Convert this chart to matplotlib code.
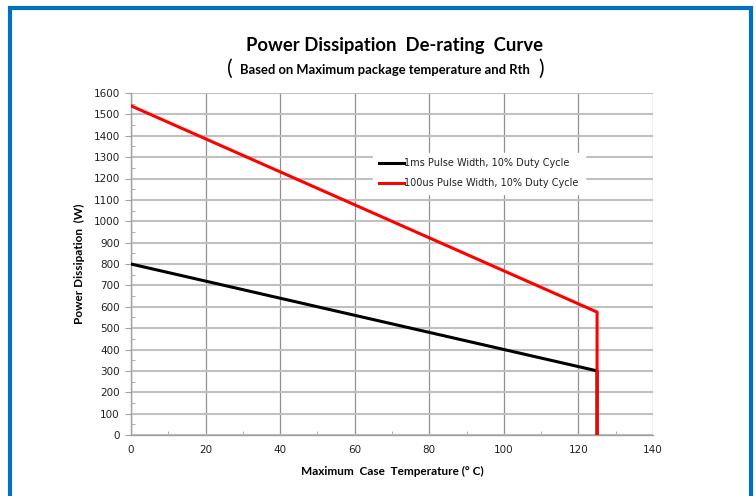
import matplotlib
matplotlib.use("Agg")
import matplotlib.pyplot as plt
from matplotlib.patches import Rectangle
from matplotlib.ticker import MultipleLocator

# data
temp_1ms = [0, 125, 125]
power_1ms = [800, 300, 0]
temp_100us = [0, 125, 125]
power_100us = [1540, 575, 0]
labels = ['1ms Pulse Width, 10% Duty Cycle', '100us Pulse Width, 10% Duty Cycle']

fig = plt.figure(figsize=(7.56, 4.96), dpi=100)

# blue frame around the chart
fig.patches.append(Rectangle((9.5/756, -0.05), (751-9.5)/756, 1.05 - 8.5/496,
                             transform=fig.transFigure, fill=False,
                             edgecolor='#0070C0', linewidth=3))

ax = fig.add_axes([131/756, 1-435/496, (653-131)/756, (435-93)/496])
ax.plot(temp_1ms, power_1ms, color='black', lw=2.2, label=labels[0], zorder=3)
ax.plot(temp_100us, power_100us, color='#FF0000', lw=2.2, label=labels[1], zorder=4)

ax.set_xlim(0, 140)
ax.set_ylim(0, 1600)
ax.xaxis.set_major_locator(MultipleLocator(20))
ax.xaxis.set_minor_locator(MultipleLocator(10))
ax.yaxis.set_major_locator(MultipleLocator(100))
ax.yaxis.set_minor_locator(MultipleLocator(50))

ax.grid(axis='x', which='major', color='#909090', lw=0.9)
ax.grid(axis='y', which='major', color='#C0C0C0', lw=1.5)
ax.set_axisbelow(True)
for side in ['top', 'right']:
    ax.spines[side].set_visible(False)
for side in ['left', 'bottom']:
    ax.spines[side].set_color('#A0A0A0')
    ax.spines[side].set_linewidth(1.0)

ax.tick_params(which='major', direction='out', length=4, color='#A0A0A0',
               labelsize=7.5, labelcolor='#222222', pad=4)
ax.tick_params(which='minor', direction='in', length=3, color='#A0A0A0')
ax.tick_params(axis='x', which='major', length=0, pad=7)

ax.set_xlabel('Maximum  Case  Temperature (° C)', fontsize=8.5, fontweight='bold',
              family='Lato', labelpad=8)
ax.set_ylabel('Power Dissipation  (W)', fontsize=8.5, fontweight='bold',
              family='Lato', labelpad=6)

leg = ax.legend(loc='upper left', bbox_to_anchor=(0.455, 0.84), frameon=True,
                fontsize=7, handlelength=2.5, handletextpad=0.1,
                labelspacing=1.0, borderpad=0.6)
leg.get_frame().set_edgecolor('white')
leg.get_frame().set_facecolor('white')
leg.get_frame().set_alpha(1)
for t in leg.get_texts():
    t.set_color('#222222')

fig.text(394/756, 1-45/496, 'Power Dissipation  De-rating  Curve', ha='center',
         va='center', fontsize=13.3, fontweight='bold', family='Lato')
sub = 'Based on Maximum package temperature and Rth'
fig.text(385/756, 1-70/496, sub, ha='center', va='center', fontsize=9.4,
         fontweight='bold', family='Lato')
fig.text(230/756, 1-69/496, '(', ha='center', va='center', fontsize=15, family='Lato')
fig.text(541/756, 1-69/496, ')', ha='center', va='center', fontsize=15, family='Lato')

fig.savefig('out.png', dpi=100)
